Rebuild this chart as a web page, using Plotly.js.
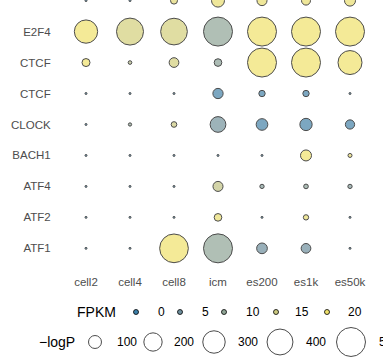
<!DOCTYPE html>
<html><head><meta charset="utf-8">
<script src="https://cdn.plot.ly/plotly-3.0.1.min.js"></script>
<style>html,body{margin:0;padding:0;background:#fff;}#chart{width:383px;height:363px;}</style>
</head><body><div id="chart"></div>
<script>
// ---- data ----
const samples = ["cell2","cell4","cell8","icm","es200","es1k","es50k"];
const motifs  = ["ATF1","ATF2","ATF4","BACH1","CLOCK","CTCF","CTCF","E2F4","ELF3"]; // bottom -> top
// -logP per motif row (bottom -> top), per sample
const logP = [
  [1, 1, 490, 500, 68, 56, 1],      // ATF1
  [1, 1, 1, 35, 1, 17, 1],          // ATF2
  [1, 1, 1, 60, 11, 13, 11],        // ATF4
  [1, 1, 1, 1, 1, 72, 9.5],         // BACH1
  [1, 6.5, 19, 147, 81, 90, 51],    // CLOCK
  [1, 1, 1, 63, 24, 24, 1],         // CTCF (lower)
  [38, 8, 56, 35, 500, 500, 343],   // CTCF (upper)
  [323, 434, 424, 500, 500, 500, 500], // E2F4
  [1, 1, 29, 100, 60, 48, 72]       // ELF3
];
// FPKM per motif row (bottom -> top), per sample
const fpkm = [
  [0, 0, 20, 10, 5, 5, 0],
  [0, 0, 0, 19, 0, 19, 0],
  [0, 0, 0, 14, 8, 9, 8],
  [0, 0, 0, 0, 0, 20, 19],
  [0, 10, 15, 6, 1, 1, 1],
  [0, 0, 0, 1, 1, 1, 0],
  [20, 13, 16, 9, 20, 20, 20],
  [20, 16, 16, 10, 20, 20, 20],
  [0, 0, 18, 19, 19, 19, 19]
];
const fpkmLegend = [0, 5, 10, 15, 20];
const logPLegend = [100, 200, 300, 400, 500];

// ---- styling / layout constants ----
const colorscale = [[0,'#3c80aa'],[0.25,'#6e8f9d'],[0.5,'#90a596'],[0.75,'#cdca80'],[1,'#f0e26c']];
const SIZEREF = 1.19;
const fontFam = 'Liberation Sans, Arial, sans-serif';
const W = 383, H = 363;
const plotBottom = 268;

const xs = [], ys = [], sz = [], col = [];
motifs.forEach((m, r) => samples.forEach((s, c) => {
  xs.push(c); ys.push(r); sz.push(logP[r][c]); col.push(fpkm[r][c]);
}));

const main = {
  type: 'scatter', mode: 'markers', x: xs, y: ys, cliponaxis: false, hoverinfo: 'none',
  marker: {size: sz, sizemode: 'area', sizeref: SIZEREF, sizemin: 1,
    color: col, colorscale: colorscale, cmin: 0, cmax: 20, showscale: false,
    line: {color: '#000', width: 1}}
};

// legend key positions (layout, in page pixels)
const fkX = [136, 180, 224, 276, 327], fkY = 312, fLabX = [156, 200, 244, 293, 346];
const lkX = [95, 153, 214, 280, 351], lkY = 342, lLabX = [115, 172, 236, 304, 377];

const legF = {
  type: 'scatter', mode: 'markers', xaxis: 'x2', yaxis: 'y2', hoverinfo: 'none', cliponaxis: false,
  x: fkX, y: fkX.map(() => fkY),
  marker: {size: 5, color: fpkmLegend, colorscale: colorscale, cmin: 0, cmax: 20,
    line: {color: '#000', width: 0.8}}
};
const legL = {
  type: 'scatter', mode: 'markers', xaxis: 'x2', yaxis: 'y2', hoverinfo: 'none', cliponaxis: false,
  x: lkX, y: lkX.map(() => lkY),
  marker: {size: logPLegend, sizemode: 'area', sizeref: SIZEREF, color: 'rgba(255,255,255,0)',
    line: {color: '#000', width: 1}}
};

const ann = [];
fpkmLegend.forEach((v, i) => ann.push({xref:'x2', yref:'y2', x: fLabX[i], y: fkY, text: String(v),
  xanchor:'left', yanchor:'middle', showarrow:false, font:{family:fontFam, size:12, color:'#000'}}));
logPLegend.forEach((v, i) => ann.push({xref:'x2', yref:'y2', x: lLabX[i], y: lkY, text: String(v),
  xanchor:'left', yanchor:'middle', showarrow:false, font:{family:fontFam, size:12, color:'#000'}}));
ann.push({xref:'x2', yref:'y2', x: 118, y: fkY, text: 'FPKM', xanchor:'right', yanchor:'middle',
  showarrow:false, font:{family:fontFam, size:14, color:'#000'}});
ann.push({xref:'x2', yref:'y2', x: 77, y: lkY, text: '\u2212logP', xanchor:'right', yanchor:'middle',
  showarrow:false, font:{family:fontFam, size:14, color:'#000'}});

const layout = {
  width: W, height: H, margin: {l:0, r:0, t:0, b:0, pad:0},
  paper_bgcolor: '#fff', plot_bgcolor: 'rgba(0,0,0,0)', showlegend: false,
  xaxis: {domain: [64/W, 372/W], range: [-0.5, 6.5], tickvals: samples.map((s,i)=>i), ticktext: samples,
    showgrid:false, zeroline:false, showline:false, ticks:'outside', ticklen:3, tickcolor:'rgba(0,0,0,0)',
    tickfont:{family:fontFam, size:11.5, color:'#4d4d4d'}, fixedrange:true},
  yaxis: {domain: [1 - plotBottom/H, 1], range: [-0.635, 8.02], tickvals: motifs.map((m,i)=>i), ticktext: motifs,
    showgrid:false, zeroline:false, showline:false, ticks:'outside', ticklen:10, tickcolor:'rgba(0,0,0,0)',
    tickfont:{family:fontFam, size:11.5, color:'#4d4d4d'}, fixedrange:true},
  xaxis2: {domain:[0,1], range:[0,W], anchor:'y2', visible:false, fixedrange:true},
  yaxis2: {domain:[0,1], range:[H,0], anchor:'x2', visible:false, fixedrange:true},
  annotations: ann
};
Plotly.newPlot('chart', [main, legF, legL], layout, {displayModeBar:false, staticPlot:true});
</script></body></html>
